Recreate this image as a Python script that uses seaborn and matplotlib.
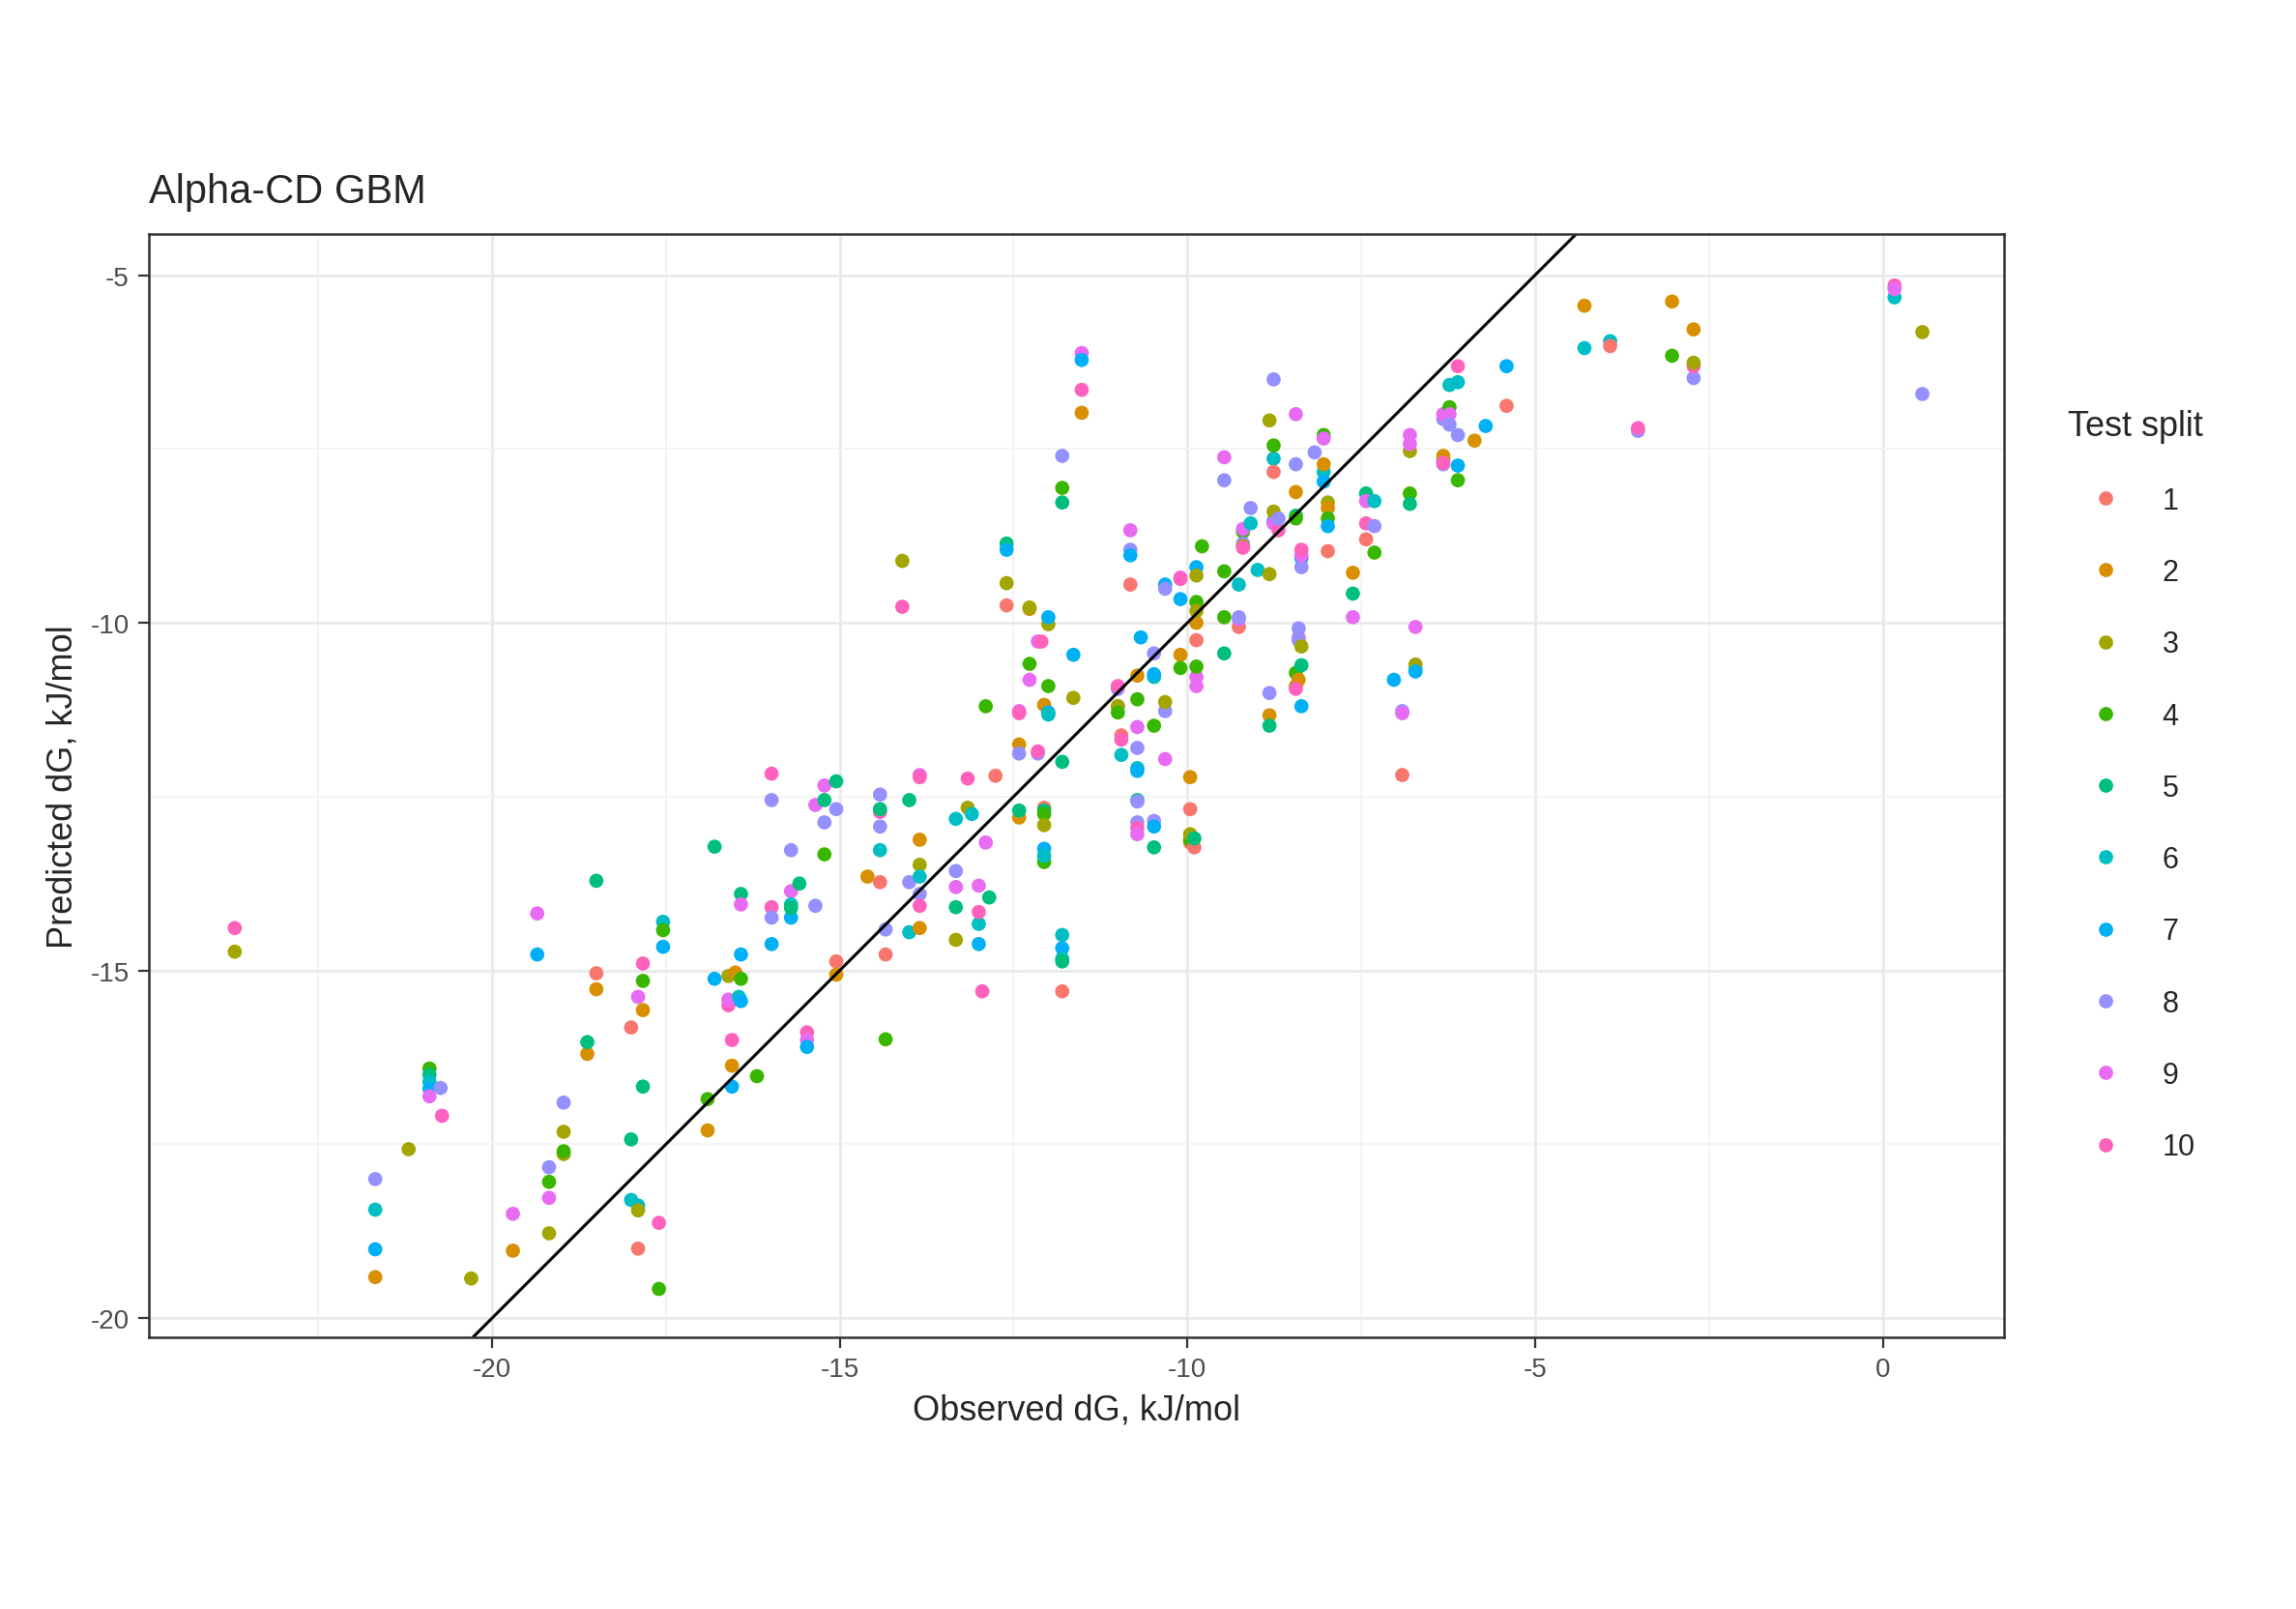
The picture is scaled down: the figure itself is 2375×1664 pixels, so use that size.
import matplotlib
matplotlib.use("Agg")
import matplotlib.pyplot as plt
import seaborn as sns
import pandas as pd
from matplotlib.ticker import MultipleLocator

observed = [-23.7,-23.7,-21.68,-21.68,-21.68,-21.68,-21.2,-20.9,-20.9,-20.9,-20.9,-20.9,-20.74,-20.72,-20.3,-19.7,-19.7,-19.35,-19.35,
-19.18,-19.18,-19.18,-19.18,-18.97,-18.97,-18.97,-18.97,-18.63,-18.63,-18.5,-18.5,-18.5,-18.0,-18.0,-18.0,-17.9,-17.9,-17.9,-17.9,
-17.83,-17.83,-17.83,-17.83,-17.6,-17.6,-17.54,-17.54,-17.54,-16.8,-16.8,-16.9,-16.9,-16.6,-16.6,-16.55,-16.55,-16.6,-16.5,-16.55,-16.45,
-16.42,-16.42,-16.42,-16.42,-16.42,-16.19,-15.98,-15.98,-15.98,-15.98,-15.98,-15.7,-15.7,-15.7,-15.7,-15.7,-15.58,-15.47,-15.47,-15.47,
-15.35,-15.35,-15.22,-15.22,-15.22,-15.22,-15.05,-15.05,-15.05,-15.05,-14.6,-14.42,-14.42,-14.42,-14.42,-14.42,-14.42,-14.34,-14.34,-14.34,
-14.1,-14.1,-14.0,-14.0,-14.0,-13.85,-13.85,-13.85,-13.85,-13.85,-13.85,-13.85,-13.85,-13.33,-13.33,-13.33,-13.33,-13.33,-13.16,-13.16,-13.1,
-13.0,-13.0,-13.0,-13.0,-12.95,-12.9,-12.85,-12.9,-12.76,-12.6,-12.6,-12.6,-12.6,-12.42,-12.42,-12.42,-12.42,-12.42,-12.42,
-12.27,-12.27,-12.27,-12.27,-12.15,-12.1,-12.15,-12.15,-12.06,-12.06,-12.06,-12.06,-12.06,-12.06,-12.06,-12.06,-12.0,-12.0,-12.0,-12.0,-12.0,
-11.8,-11.8,-11.8,-11.8,-11.8,-11.8,-11.8,-11.8,-11.8,-11.64,-11.64,-11.52,-11.52,-11.52,-11.52,
-11.0,-11.0,-11.0,-11.0,-11.0,-10.95,-10.95,-10.95,-10.82,-10.82,-10.82,-10.82,
-10.72,-10.72,-10.72,-10.72,-10.72,-10.72,-10.72,-10.72,-10.72,-10.72,-10.72,-10.67,
-10.48,-10.48,-10.48,-10.48,-10.48,-10.48,-10.48,-10.32,-10.32,-10.32,-10.32,-10.32,-10.1,-10.1,-10.1,-10.1,-10.1,
-9.96,-9.96,-9.96,-9.96,-9.96,-9.9,-9.9,-9.87,-9.87,-9.87,-9.87,-9.87,-9.87,-9.87,-9.87,-9.87,-9.79,
-9.47,-9.47,-9.47,-9.47,-9.47,-9.26,-9.26,-9.26,-9.26,-9.2,-9.2,-9.2,-9.2,-9.2,-9.09,-9.09,-8.99,
-8.82,-8.82,-8.82,-8.82,-8.82,-8.76,-8.76,-8.76,-8.76,-8.76,-8.76,-8.76,-8.69,-8.69,
-8.44,-8.44,-8.44,-8.44,-8.44,-8.44,-8.44,-8.4,-8.44,-8.4,-8.4,-8.4,-8.36,-8.36,-8.36,-8.36,-8.36,-8.36,-8.36,-8.17,
-8.04,-8.04,-8.04,-8.04,-8.04,-7.98,-7.98,-7.98,-7.98,-7.98,-7.62,-7.62,-7.62,-7.43,-7.43,-7.43,-7.43,-7.31,-7.31,-7.31,-7.03,
-6.91,-6.91,-6.91,-6.8,-6.8,-6.8,-6.8,-6.8,-6.72,-6.72,-6.72,-6.72,-6.32,-6.32,-6.32,-6.32,-6.32,-6.32,-6.23,-6.23,-6.23,-6.23,
-6.11,-6.11,-6.11,-6.11,-6.11,-5.87,-5.71,-5.41,-5.41,-4.29,-4.29,-3.92,-3.92,-3.52,-3.52,-3.03,-3.03,-2.72,-2.72,-2.72,-2.72,
0.17,0.17,0.17,0.57,0.57]

predicted = [-14.39,-14.73,-18.0,-18.44,-19.01,-19.41,-17.57,-16.41,-16.5,-16.6,-16.7,-16.81,-16.69,-17.09,-19.43,-19.03,-18.5,-14.18,-14.77,
-18.04,-18.27,-18.78,-17.83,-17.32,-17.64,-17.6,-16.9,-16.2,-16.03,-15.04,-15.27,-13.71,-15.82,-17.43,-18.3,-19.0,-15.38,-18.38,-18.45,
-15.57,-15.15,-14.9,-16.67,-19.58,-18.63,-14.3,-14.42,-14.66,-13.22,-15.12,-16.85,-17.3,-15.5,-15.42,-16.37,-16.67,-15.08,-15.03,-16.0,-15.38,
-13.9,-14.05,-14.77,-15.44,-15.12,-16.52,-12.17,-12.55,-14.62,-14.09,-14.24,-13.27,-13.86,-14.05,-14.24,-14.1,-13.75,-15.89,-16.0,-16.1,
-12.62,-14.07,-13.33,-12.87,-12.34,-12.55,-12.28,-12.68,-14.87,-15.06,-13.65,-12.72,-12.68,-12.93,-13.27,-13.73,-12.47,-15.99,-14.77,-14.41,
-9.77,-9.11,-12.55,-14.45,-13.73,-12.19,-12.22,-13.12,-13.48,-13.65,-13.9,-14.07,-14.39,-14.56,-14.09,-13.57,-13.8,-12.82,-12.24,-12.66,-12.75,
-14.62,-14.33,-14.16,-13.78,-15.3,-13.16,-13.95,-11.2,-12.2,-9.43,-8.86,-9.75,-8.95,-11.75,-12.8,-12.7,-11.88,-11.27,-11.3,
-10.59,-10.82,-9.8,-9.78,-10.27,-10.27,-11.88,-11.85,-12.66,-12.7,-12.75,-12.91,-13.44,-11.18,-13.25,-13.35,-10.91,-10.02,-9.92,-11.29,-11.32,
-7.6,-8.06,-8.27,-12.0,-14.49,-14.68,-14.83,-14.87,-15.3,-10.46,-11.08,-6.12,-6.22,-6.65,-6.98,
-11.2,-10.95,-10.91,-11.2,-11.29,-11.62,-11.68,-11.9,-8.67,-8.95,-9.03,-9.45,
-10.76,-11.1,-11.5,-11.8,-12.09,-12.13,-12.55,-12.57,-12.87,-12.95,-13.04,-10.21,
-10.78,-10.74,-11.48,-13.23,-12.85,-12.93,-10.44,-9.45,-9.51,-11.27,-11.96,-11.14,-9.35,-10.46,-10.65,-9.66,-9.37,
-13.16,-12.22,-12.68,-13.12,-13.04,-13.23,-13.1,-9.2,-9.32,-9.7,-10.0,-10.25,-10.91,-10.78,-10.63,-9.83,-8.9,
-9.26,-9.92,-10.44,-7.95,-7.62,-9.45,-10.06,-9.95,-9.92,-8.69,-8.65,-8.86,-8.9,-8.92,-8.35,-8.57,-9.24,
-11.33,-11.48,-11.01,-9.3,-7.09,-8.54,-7.64,-7.45,-7.83,-6.5,-8.4,-8.57,-8.67,-8.5,
-7.72,-7.0,-8.46,-8.5,-8.12,-10.72,-10.91,-10.82,-10.95,-10.21,-10.08,-10.25,-9.07,-9.2,-9.03,-8.95,-11.2,-10.61,-10.34,-7.55,
-7.83,-7.72,-7.3,-7.97,-7.35,-8.27,-8.35,-8.5,-8.61,-8.97,-9.58,-9.28,-9.92,-8.14,-8.25,-8.57,-8.8,-8.25,-8.99,-8.61,-10.82,
-12.19,-11.27,-11.3,-7.53,-7.3,-7.43,-8.14,-8.29,-10.67,-10.6,-10.06,-10.7,-7.66,-7.07,-7.6,-7.0,-7.72,-7.7,-6.58,-6.9,-7.0,-7.15,
-7.74,-7.3,-7.95,-6.54,-6.31,-7.38,-7.17,-6.88,-6.31,-6.05,-5.44,-5.95,-6.02,-7.24,-7.2,-6.16,-5.38,-6.48,-6.31,-6.26,-5.78,
-5.15,-5.32,-5.2,-5.82,-6.71]

split = [10,3,8,6,7,2,3,4,5,6,7,9,8,10,3,2,9,9,7,
4,9,3,8,3,3,4,8,2,5,1,2,5,1,5,6,1,9,6,3,
2,4,10,5,4,10,6,4,7,5,7,4,2,10,9,2,7,3,2,10,6,
5,9,7,7,4,4,10,8,7,10,8,8,9,6,7,5,5,10,9,7,
9,8,4,8,9,5,5,8,1,2,2,10,5,8,6,1,8,4,1,8,
10,3,5,6,8,9,10,2,3,6,8,10,2,3,5,8,9,6,10,3,6,
7,6,10,9,10,9,5,4,1,3,5,1,7,2,2,5,8,9,10,
4,9,2,3,9,10,8,10,1,5,4,3,4,2,7,6,4,3,7,7,6,
8,4,5,5,6,7,6,5,1,7,3,9,7,10,2,
9,8,10,3,4,1,10,6,9,8,7,1,
2,4,9,8,6,7,5,8,8,10,9,7,
6,7,4,5,8,7,8,7,8,8,9,3,9,2,4,7,10,
1,2,1,4,3,1,5,7,3,4,2,1,9,9,4,3,4,
4,4,5,8,9,6,1,9,8,4,9,8,3,10,8,6,6,
2,5,8,3,3,7,6,4,1,8,3,9,10,8,
8,9,5,4,2,4,3,2,10,9,8,8,7,8,9,10,7,5,3,8,
6,2,4,7,9,3,2,4,7,1,5,2,9,5,9,10,1,6,4,8,7,
1,8,9,3,9,9,4,5,6,3,9,7,5,8,2,9,8,10,6,4,9,8,
7,8,4,6,10,2,7,1,7,6,2,6,1,8,10,4,2,8,10,3,2,
10,6,9,3,8]

palette = ["#F8766D", "#D89000", "#A3A500", "#39B600", "#00BF7D",
           "#00BFC4", "#00B0F6", "#9590FF", "#E76BF3", "#FF62BC"]
levels = [str(i) for i in range(1, 11)]

n = min(len(observed), len(predicted), len(split))
df = pd.DataFrame({"obs": observed[:n], "pred": predicted[:n],
                   "split": [str(s) for s in split[:n]]})

sns.set_theme(style="whitegrid")
plt.rcParams['font.family'] = ['Liberation Sans', 'DejaVu Sans']
plt.rcParams['axes.unicode_minus'] = False

fig = plt.figure(figsize=(11.875, 8.325), dpi=200)
ax = fig.add_axes([0.065, 0.169, 0.808, 0.685])
sns.scatterplot(data=df, x="obs", y="pred", hue="split", hue_order=levels,
                palette=palette, s=28, edgecolor="none", ax=ax)
ax.axline((0, 0), slope=1, color="black", lw=1.1, zorder=1)

ax.set_xlim(-24.93, 1.75)
ax.set_ylim(-20.27, -4.41)
ax.xaxis.set_major_locator(MultipleLocator(5))
ax.yaxis.set_major_locator(MultipleLocator(5))
ax.xaxis.set_minor_locator(MultipleLocator(2.5))
ax.yaxis.set_minor_locator(MultipleLocator(2.5))
ax.set_facecolor("white")
ax.grid(which="major", color="#EBEBEB", lw=1.1)
ax.grid(which="minor", color="#F2F2F2", lw=0.6)
ax.set_axisbelow(True)
for sp in ax.spines.values():
    sp.set_color("#333333"); sp.set_linewidth(0.9)
ax.tick_params(which="major", length=4, width=0.8, color="#333333",
               labelsize=10, labelcolor="#4D4D4D", bottom=True, left=True, direction="out")
ax.tick_params(which="minor", length=0)
ax.set_xlabel("Observed dG, kJ/mol", fontsize=13)
ax.set_ylabel("Predicted dG, kJ/mol", fontsize=13)
ax.set_title("Alpha-CD GBM", fontsize=15, loc="left", pad=12)

sns.move_legend(ax, "center left", bbox_to_anchor=(1.02, 0.5), frameon=False,
                title="Test split", fontsize=11, title_fontsize=13,
                labelspacing=1.45, markerscale=1.0, handletextpad=0.9)

fig.savefig("out.png", dpi=200)
